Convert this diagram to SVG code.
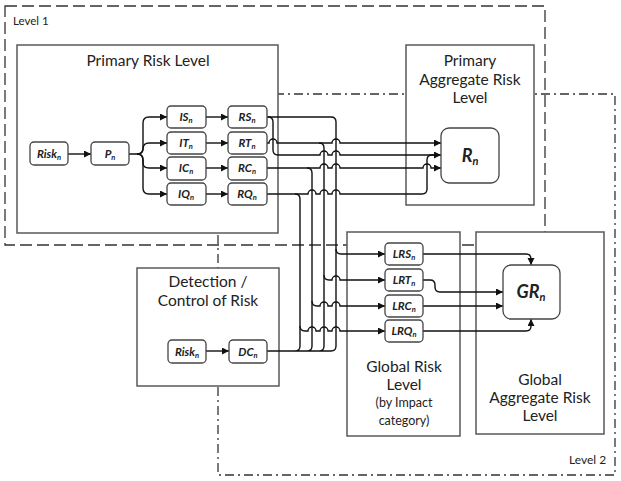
<svg xmlns="http://www.w3.org/2000/svg" width="621" height="481" viewBox="0 0 621 481">
<defs>
<marker id="ah" markerUnits="userSpaceOnUse" markerWidth="8" markerHeight="8" refX="7" refY="3.5" orient="auto"><path d="M0,0 L7,3.5 L0,7 z" fill="#111"/></marker>
<style>
.lvl{fill:none;stroke:#333;stroke-width:1.3}
.box{fill:#fff;stroke:#595959;stroke-width:1.5}
.sb{fill:#fff;stroke:#444;stroke-width:1.3}
.ln{fill:none;stroke:#111;stroke-width:1.4}
.arr{marker-end:url(#ah)}
text{font-family:Lato,"Open Sans","Liberation Sans",sans-serif;fill:#222}
.t{font-size:15.5px;text-anchor:middle}
.s{font-size:12.5px;text-anchor:middle}
.lb{font-size:11.5px;font-weight:bold;font-style:italic;text-anchor:middle}
.big{font-size:18px;font-weight:bold;font-style:italic;text-anchor:middle}
.sub{font-size:7.5px}
.bsub{font-size:11px}
</style>
</defs>
<g id="level1"><rect class="lvl" x="5" y="6" width="540" height="239" stroke-dasharray="12 5"/><text x="13" y="25" font-size="11.5">Level 1</text></g>
<g id="level2"><rect class="lvl" x="218" y="94" width="397" height="381" stroke-dasharray="9 4 2 4"/><text x="569" y="464" font-size="12">Level 2</text></g>

<g id="primary-risk-level"><rect class="box" x="17" y="45" width="261" height="188"/><text class="t" x="148" y="66">Primary Risk Level</text></g>
<g id="primary-aggregate"><rect class="box" x="406" y="45" width="128" height="160"/><text class="t" x="470" y="66">Primary</text><text class="t" x="470" y="85">Aggregate Risk</text><text class="t" x="470" y="103">Level</text></g>
<g id="detection"><rect class="box" x="137" y="268" width="142" height="118"/><text class="t" x="208" y="287">Detection /</text><text class="t" x="208" y="306">Control of Risk</text></g>
<g id="global-risk-level"><rect class="box" x="347" y="232" width="113" height="204"/><text class="t" x="404" y="372">Global Risk</text><text class="t" x="404" y="390">Level</text><text class="s" x="404" y="407">(by Impact</text><text class="s" x="404" y="425">category)</text></g>
<g id="global-aggregate"><rect class="box" x="476" y="232" width="128" height="202"/><text class="t" x="540" y="385">Global</text><text class="t" x="540" y="403">Aggregate Risk</text><text class="t" x="540" y="421">Level</text></g>

<g id="connectors">
<path class="ln arr" d="M68,154 H91"/>
<path class="ln arr" d="M129,154 H137 Q143,154 143,148 V123 Q143,117 149,117 H167"/>
<path class="ln arr" d="M137,154 Q143,154 143,149 Q143,143 149,143 H167"/>
<path class="ln arr" d="M137,154 Q143,154 143,160 V163 Q143,168 149,168 H167"/>
<path class="ln arr" d="M137,154 Q143,154 143,160 V188 Q143,194 149,194 H167"/>
<path class="ln arr" d="M206,117 H228"/>
<path class="ln arr" d="M206,143 H228"/>
<path class="ln arr" d="M206,168 H228"/>
<path class="ln arr" d="M206,194 H228"/>
<path class="ln arr" d="M206,351 H229"/>
<path class="ln" d="M267,117 H331 Q336,117 336,122 V346"/>
<path class="ln arr" d="M268,117 Q273,117 273,122 V150 Q273,155 278,155 H320 A4,4 0 0 1 328,155 H332 A4,4 0 0 1 340,155 H441"/>
<path class="ln arr" d="M267,143 H269 A4,4 0 0 1 277,143 H332 A4,4 0 0 1 340,143 H441"/>
<path class="ln" d="M319,143 Q324,143 324,148 V346"/>
<path class="ln arr" d="M267,168 H320 A4,4 0 0 1 328,168 H332 A4,4 0 0 1 340,168 H423 A4,4 0 0 1 431,168 H441"/>
<path class="ln" d="M307,168 Q312,168 312,173 V346"/>
<path class="ln" d="M267,194 H308 A4,4 0 0 1 316,194 H320 A4,4 0 0 1 328,194 H332 A4,4 0 0 1 340,194 H422 Q427,194 427,189 V160 Q427,155 432,155 H436"/>
<path class="ln" d="M295,194 Q300,194 300,199 V346"/>
<path class="ln" d="M267,351 H331 Q336,351 336,346 M295,351 Q300,351 300,346 M307,351 Q312,351 312,346 M319,351 Q324,351 324,346"/>
<path class="ln arr" d="M336,249 Q336,254 341,254 H385"/>
<path class="ln arr" d="M324,275 Q324,280 329,280 H332 A4,4 0 0 1 340,280 H385"/>
<path class="ln arr" d="M312,301 Q312,306 317,306 H320 A4,4 0 0 1 328,306 H332 A4,4 0 0 1 340,306 H385"/>
<path class="ln arr" d="M300,326 Q300,331 305,331 H308 A4,4 0 0 1 316,331 H320 A4,4 0 0 1 328,331 H332 A4,4 0 0 1 340,331 H385"/>
<path class="ln arr" d="M423,254 H526 Q531,254 531,259 V265"/>
<path class="ln arr" d="M423,280 H430 Q435,280 435,285 V287 Q435,292 440,292 H503"/>
<path class="ln arr" d="M423,306 H503"/>
<path class="ln arr" d="M423,331 H526 Q531,331 531,326 V319"/>
</g>

<g id="risk-n"><rect class="sb" x="30" y="142" width="38" height="23" rx="4"/><text class="lb" x="49" y="158">Risk<tspan class="sub" dy="2">n</tspan></text></g>
<g id="p-n"><rect class="sb" x="91" y="142" width="38" height="23" rx="4"/><text class="lb" x="110" y="158">P<tspan class="sub" dy="2">n</tspan></text></g>
<g id="is-n"><rect class="sb" x="167" y="106" width="39" height="22" rx="4"/><text class="lb" x="186" y="121">IS<tspan class="sub" dy="2">n</tspan></text></g>
<g id="it-n"><rect class="sb" x="167" y="132" width="39" height="22" rx="4"/><text class="lb" x="186" y="147">IT<tspan class="sub" dy="2">n</tspan></text></g>
<g id="ic-n"><rect class="sb" x="167" y="157" width="39" height="23" rx="4"/><text class="lb" x="186" y="172">IC<tspan class="sub" dy="2">n</tspan></text></g>
<g id="iq-n"><rect class="sb" x="167" y="183" width="39" height="22" rx="4"/><text class="lb" x="186" y="198">IQ<tspan class="sub" dy="2">n</tspan></text></g>
<g id="rs-n"><rect class="sb" x="228" y="106" width="39" height="22" rx="4"/><text class="lb" x="247" y="121">RS<tspan class="sub" dy="2">n</tspan></text></g>
<g id="rt-n"><rect class="sb" x="228" y="132" width="39" height="22" rx="4"/><text class="lb" x="247" y="147">RT<tspan class="sub" dy="2">n</tspan></text></g>
<g id="rc-n"><rect class="sb" x="228" y="157" width="39" height="23" rx="4"/><text class="lb" x="247" y="172">RC<tspan class="sub" dy="2">n</tspan></text></g>
<g id="rq-n"><rect class="sb" x="228" y="183" width="39" height="22" rx="4"/><text class="lb" x="247" y="198">RQ<tspan class="sub" dy="2">n</tspan></text></g>
<g id="r-n"><rect class="sb" x="441" y="128" width="58" height="55" rx="8"/><text class="big" x="470" y="162">R<tspan class="bsub" dy="3">n</tspan></text></g>
<g id="risk-n-dc"><rect class="sb" x="168" y="340" width="38" height="23" rx="4"/><text class="lb" x="187" y="356">Risk<tspan class="sub" dy="2">n</tspan></text></g>
<g id="dc-n"><rect class="sb" x="229" y="340" width="38" height="23" rx="4"/><text class="lb" x="248" y="356">DC<tspan class="sub" dy="2">n</tspan></text></g>
<g id="lrs-n"><rect class="sb" x="385" y="243" width="38" height="22" rx="4"/><text class="lb" x="404" y="258">LRS<tspan class="sub" dy="2">n</tspan></text></g>
<g id="lrt-n"><rect class="sb" x="385" y="269" width="38" height="22" rx="4"/><text class="lb" x="404" y="284">LRT<tspan class="sub" dy="2">n</tspan></text></g>
<g id="lrc-n"><rect class="sb" x="385" y="295" width="38" height="22" rx="4"/><text class="lb" x="404" y="310">LRC<tspan class="sub" dy="2">n</tspan></text></g>
<g id="lrq-n"><rect class="sb" x="385" y="320" width="38" height="22" rx="4"/><text class="lb" x="404" y="335">LRQ<tspan class="sub" dy="2">n</tspan></text></g>
<g id="gr-n"><rect class="sb" x="503" y="265" width="57" height="54" rx="8"/><text class="big" x="531" y="298">GR<tspan class="bsub" dy="3">n</tspan></text></g>
</svg>
